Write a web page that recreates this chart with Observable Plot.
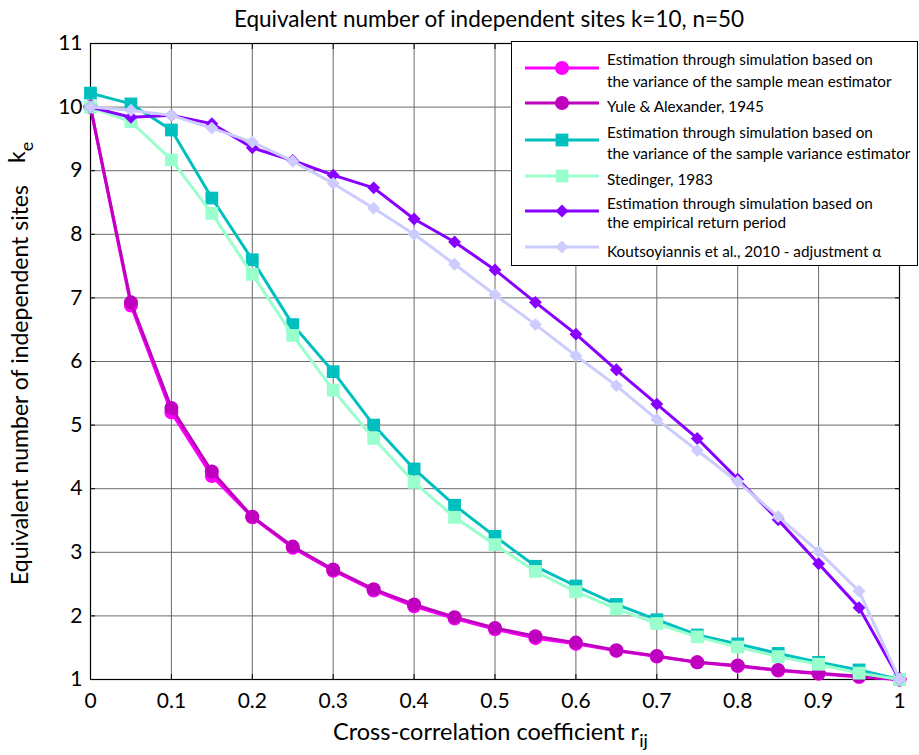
<!DOCTYPE html>
<html>
<head>
<meta charset="utf-8">
<script src="https://cdn.jsdelivr.net/npm/d3@7"></script>
<script src="https://cdn.jsdelivr.net/npm/@observablehq/plot@0.6"></script>
<style>
  html, body { margin: 0; padding: 0; background: #fff; }
  #wrap { position: relative; width: 919px; height: 755px; font-family: Lato, "Open Sans", sans-serif; }
  #legend { position: absolute; left: 511px; top: 41px; width: 407px; height: 225px; box-sizing: border-box; border: 1px solid #000; background: #fff; }
  #legend svg { display: block; }
</style>
</head>
<body>
<div id="wrap"><div id="legend"></div></div>
<script>
// ---- data ----
const rValues = [0, 0.05, 0.1, 0.15, 0.2, 0.25, 0.3, 0.35, 0.4, 0.45, 0.5, 0.55, 0.6, 0.65, 0.7, 0.75, 0.8, 0.85, 0.9, 0.95, 1];
const simMean   = [10, 6.88, 5.20, 4.20, 3.55, 3.07, 2.71, 2.40, 2.15, 1.96, 1.79, 1.65, 1.56, 1.45, 1.36, 1.27, 1.21, 1.14, 1.09, 1.04, 1.00];
const yule      = [10, 6.93, 5.27, 4.27, 3.56, 3.09, 2.73, 2.42, 2.18, 1.98, 1.81, 1.68, 1.58, 1.46, 1.37, 1.27, 1.22, 1.15, 1.10, 1.05, 1.00];
const simVar    = [10.22, 10.05, 9.64, 8.57, 7.60, 6.58, 5.84, 5.00, 4.31, 3.74, 3.25, 2.78, 2.47, 2.18, 1.94, 1.70, 1.56, 1.41, 1.27, 1.15, 1.00];
const stedinger = [10, 9.77, 9.17, 8.33, 7.37, 6.41, 5.55, 4.79, 4.10, 3.55, 3.12, 2.70, 2.38, 2.11, 1.88, 1.67, 1.51, 1.36, 1.24, 1.10, 1.00];
const simReturn = [10, 9.84, 9.87, 9.74, 9.36, 9.16, 8.93, 8.73, 8.24, 7.88, 7.44, 6.93, 6.43, 5.87, 5.33, 4.79, 4.15, 3.51, 2.82, 2.13, 1.00];
const kouts     = [10, 9.95, 9.87, 9.67, 9.45, 9.15, 8.80, 8.41, 8.00, 7.53, 7.05, 6.58, 6.09, 5.62, 5.09, 4.60, 4.11, 3.56, 3.01, 2.39, 1.00];

const seriesNames = [
  ["Estimation through simulation based on", "the variance of the sample mean estimator"],
  ["Yule & Alexander, 1945"],
  ["Estimation through simulation based on", "the variance of the sample variance estimator"],
  ["Stedinger, 1983"],
  ["Estimation through simulation based on", "the empirical return period"],
  ["Koutsoyiannis et al., 2010 - adjustment  α"]
];
const seriesValues = [simMean, yule, simVar, stedinger, simReturn, kouts];
const seriesColors = ["#ff00ff", "#bf00bf", "#00bfbf", "#99ffcc", "#8800ff", "#ccccff"];
const seriesSymbols = ["circle", "circle", "square", "square", "diamond2", "diamond2"];
const symbolR = {circle: 7, square: 7.2, diamond2: 5.8};

const xTicks = [0, 0.1, 0.2, 0.3, 0.4, 0.5, 0.6, 0.7, 0.8, 0.9, 1];
const yTicks = [1, 2, 3, 4, 5, 6, 7, 8, 9, 10, 11];

const titleText = "Equivalent number of independent sites k=10, n=50";
const xLabelText = "Cross-correlation coefficient r";
const xLabelSub = "ij";
const yLabelText = "Equivalent number of independent sites";
const yLabelK = "k";
const yLabelSub = "e";

// ---- build table ----
const series = seriesValues.map((vals, i) => vals.map((v, j) => ({r: rValues[j], k: v, s: i})));
const fmt = d => String(d);

const marks = [
  Plot.gridX(xTicks, {stroke: "#6a6a6a", strokeOpacity: 1}),
  Plot.gridY(yTicks, {stroke: "#6a6a6a", strokeOpacity: 1}),
  Plot.axisX(xTicks, {anchor: "bottom", tickSize: 0, tickPadding: 14, fontSize: 21, tickFormat: fmt, label: null}),
  Plot.axisY(yTicks, {anchor: "left", tickSize: 0, tickPadding: 8, fontSize: 21, tickFormat: fmt, label: null}),
  Plot.axisX(xTicks, {anchor: "bottom", tickSize: -5, tickFormat: () => "", label: null}),
  Plot.axisX(xTicks, {anchor: "top", tickSize: -5, tickFormat: () => "", label: null}),
  Plot.axisY(yTicks, {anchor: "left", tickSize: -5, tickFormat: () => "", label: null}),
  Plot.axisY(yTicks, {anchor: "right", tickSize: -5, tickFormat: () => "", label: null}),
  Plot.frame({stroke: "#000", strokeWidth: 1.2})
];
series.forEach((data, i) => {
  marks.push(Plot.line(data, {x: "r", y: "k", stroke: seriesColors[i], strokeWidth: 3}));
  marks.push(Plot.dot(data, {x: "r", y: "k", symbol: () => seriesSymbols[i], r: symbolR[seriesSymbols[i]], fill: seriesColors[i], stroke: "none"}));
});

const chart = Plot.plot({
  width: 919,
  height: 755,
  marginLeft: 90,
  marginRight: 20,
  marginTop: 43,
  marginBottom: 76,
  style: {fontFamily: "Lato, 'Open Sans', sans-serif", color: "#000", background: "#fff"},
  x: {domain: [0, 1]},
  y: {domain: [1, 11]},
  symbol: {type: "identity"},
  marks
});
const wrap = document.getElementById("wrap");
wrap.insertBefore(chart, wrap.firstChild);

// ---- title and axis labels ----
const svg = d3.select(chart);
svg.append("text")
  .attr("x", 489).attr("y", 27)
  .attr("text-anchor", "middle")
  .attr("font-size", 22.5)
  .attr("fill", "#000")
  .text(titleText);

const xl = svg.append("text")
  .attr("x", 333).attr("y", 740)
  .attr("text-anchor", "start")
  .attr("font-size", 23.5)
  .attr("fill", "#000");
xl.append("tspan").text(xLabelText);
xl.append("tspan").attr("dy", 7).attr("font-size", 18).text(xLabelSub);

const yl = svg.append("g").attr("transform", "translate(28,0) rotate(-90)");
yl.append("text")
  .attr("x", -585).attr("y", 0)
  .attr("text-anchor", "start")
  .attr("font-size", 23)
  .attr("fill", "#000")
  .text(yLabelText);
const yk = yl.append("text")
  .attr("x", -163).attr("y", -3)
  .attr("text-anchor", "start")
  .attr("font-size", 23)
  .attr("fill", "#000");
yk.append("tspan").text(yLabelK);
yk.append("tspan").attr("dy", 8).attr("font-size", 18).text(yLabelSub);

// ---- legend ----
const lg = d3.select("#legend").append("svg").attr("width", 405).attr("height", 223);
const markerY = [26, 61, 98, 134, 169, 205];
const textY = [[23, 45], [70], [96, 117], [143], [167, 186], [215]];
seriesNames.forEach((lines, i) => {
  lg.append("line").attr("x1", 13).attr("x2", 87).attr("y1", markerY[i]).attr("y2", markerY[i])
    .attr("stroke", seriesColors[i]).attr("stroke-width", 3);
  const sym = seriesSymbols[i] === "circle" ? d3.symbolCircle : seriesSymbols[i] === "square" ? d3.symbolSquare : d3.symbolDiamond2;
  const rr = symbolR[seriesSymbols[i]];
  lg.append("path").attr("d", d3.symbol(sym, Math.PI * rr * rr)())
    .attr("transform", `translate(50,${markerY[i]})`).attr("fill", seriesColors[i]);
  lines.forEach((t, j) => {
    lg.append("text").attr("x", 95).attr("y", textY[i][j]).attr("font-size", 15.3)
      .attr("font-family", "Lato, 'Open Sans', sans-serif").attr("fill", "#000").text(t);
  });
});
</script>
</body>
</html>
